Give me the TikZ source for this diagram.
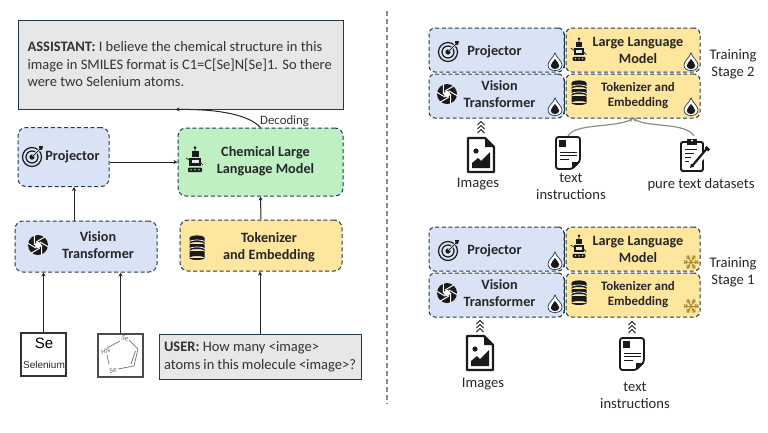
\documentclass[tikz,border=0pt]{standalone}
\usepackage{fontspec}
\setmainfont{Carlito}
\newfontfamily\arialfont{Liberation Sans}
\usetikzlibrary{positioning,arrows.meta,calc}

\definecolor{edgeblue}{HTML}{22394F}
\definecolor{fillblue}{HTML}{DAE3F5}
\definecolor{fillgreen}{HTML}{BEF0C4}
\definecolor{fillyellow}{HTML}{FFE69E}
\definecolor{fillgrey}{HTML}{E7E7E7}
\definecolor{inkdark}{HTML}{1A1A1A}
\definecolor{frost}{HTML}{A88A35}

\tikzset{
  % small icons, local units are pixels
  pics/target/.style={code={
    \draw[inkdark, line width=1.2pt] (0,0) circle (9.5);
    \draw[inkdark, line width=1.2pt] (0,0) circle (6);
    \fill[inkdark] (0,0) circle (2.6);
    \draw[white, line width=2.4pt] (1,-1) -- (9,-9);
    \draw[inkdark, line width=1pt] (0,0) -- (8,-8);
    \fill[inkdark] (7,-11) -- (11,-11) -- (10,-7) -- (7.5,-7.5) -- cycle;
  }},
  pics/aperture/.style={code={
    \fill[inkdark] (0,0) circle (10);
    \foreach \a in {0,60,...,300}
      \draw[white, line width=1pt] (\a:3.6) -- (\a+70:10.5);
    \fill[white] (0,0) circle (3.2);
  }},
  pics/database/.style={code={
    \foreach \y in {-7,0,7}
      \fill[inkdark] (-7.5,\y-3) rectangle (7.5,\y+3) (0,\y+3) ellipse (7.5 and 2);
    \fill[inkdark] (0,-10) ellipse (7.5 and 2.6);
    \foreach \y in {-6,1}
      \draw[white, line width=.7pt] (-7.5,\y) arc[start angle=180, end angle=360, x radius=7.5, y radius=2];
  }},
  pics/robot/.style={code={
    \draw[inkdark, line width=.7pt] (0,-12) -- (0,-9) (-4,1) -- (-9,-2) (4,1) -- (8,5);
    \fill[inkdark] (0,-12.5) circle (1.5);
    \fill[inkdark] (-3.5,-9) rectangle (3.5,-3.5);
    \fill[inkdark] (-6,-2.5) rectangle (6,6);
    \fill[fillgrey] (-3.5,0) rectangle (3.5,3);
    \fill[inkdark, rounded corners=1pt] (-7,7.5) rectangle (7,12);
    \foreach \x in {-4,0,4} \fill[white] (\x,9.8) circle (.8);
  }},
  pics/drop/.style={code={
    \draw[edgeblue, fill=white, line width=.7pt] (0,-9) .. controls (1.5,-4) and (7,-1.5) .. (7,3)
      .. controls (7,7) and (3.5,8.5) .. (0,8.5) .. controls (-3.5,8.5) and (-7,7) .. (-7,3)
      .. controls (-7,-1.5) and (-1.5,-4) .. (0,-9) -- cycle;
    \fill[inkdark] (0,-3) .. controls (1,-.5) and (4.3,.8) .. (4.3,3.6)
      .. controls (4.3,6) and (2,7) .. (0,7) .. controls (-2,7) and (-4.3,6) .. (-4.3,3.6)
      .. controls (-4.3,.8) and (-1,-.5) .. (0,-3) -- cycle;
  }},
  pics/flake/.style={code={
    \foreach \a in {0,60,...,300} {
      \draw[frost, line width=1pt] (0,0) -- (\a:7.5);
      \draw[frost, line width=.8pt] (\a:3.5) -- ++(\a+50:2.5) (\a:3.5) -- ++(\a-50:2.5);
      \draw[frost, line width=.8pt] (\a:5.5) -- ++(\a+50:2.2) (\a:5.5) -- ++(\a-50:2.2);
    }
  }},
  pics/chevrons/.style={code={
    \foreach \y in {-4,0,4}
      \draw[inkdark, line width=1pt] (-3.5,\y+2) -- (0,\y-1.5) -- (3.5,\y+2);
  }},
  pics/imagedoc/.style={code={
    \draw[inkdark, line width=2.4pt, line join=round, fill=white]
      (-13,-17) -- (4,-17) -- (13,-8) -- (13,17) -- (-13,17) -- cycle;
    \fill[inkdark] (4,-17) -- (4,-8) -- (13,-8) -- cycle;
    \fill[inkdark] (-5,-4) circle (2.6);
    \fill[inkdark] (-9,13) -- (-9,8) -- (-3,3) -- (0,6) -- (9,-3) -- (9,13) -- cycle;
  }},
  pics/textdoc/.style={code={
    \draw[inkdark, line width=1.8pt, rounded corners=2.5pt, fill=white]
      (-12,-16) -- (12,-16) -- (12,8) -- (4,16) -- (-12,16) -- cycle;
    \fill[inkdark] (-9,-13) rectangle (-2,-6);
    \draw[inkdark, line width=.9pt] (-8,-1) -- (9,-1) (-8,2.5) -- (9,2.5) (-8,6) -- (1,6);
    \fill[inkdark] (4,16) -- (4,9) -- (12,9) -- cycle;
  }},
  pics/clipboard/.style={code={
    \draw[inkdark, line width=1.8pt, rounded corners=1.5pt, fill=white] (-12,-13) rectangle (10,16);
    \fill[inkdark] (-6,-16) rectangle (4,-10);
    \fill[white] (-1,-14.5) circle (1.1);
    \draw[inkdark, line width=1pt] (-8,-6) -- (4,-6) (-8,-2) -- (1,-2) (-8,2) -- (-2,2) (-8,6) -- (-4,6);
    \fill[white] (-3,13) -- (13,-7) -- (17,-3) -- (1,15) -- cycle;
    \draw[inkdark, line width=2.2pt] (-.5,10.5) -- (13,-5.5);
    \fill[inkdark] (-3,13) -- (-2,8.5) -- (1,11.5) -- cycle;
    \fill[inkdark] (13.5,-9) -- (17,-5.5) -- (15,-3.5) -- (11.5,-7) -- cycle;
  }}
}

\begin{document}
\begin{tikzpicture}[
    x=1pt, y=-1pt,
    txt/.style={font=\fontsize{14.6}{17}\selectfont, text=black!85, align=center},
    msg/.style={draw=edgeblue, line width=1pt, fill=fillgrey, align=left,
                font=\fontsize{14.5}{17.5}\selectfont, text=black!80, inner sep=0pt},
    blk/.style={draw=edgeblue, line width=1pt, dashed, dash pattern=on 4pt off 2.6pt,
                rounded corners=8pt, inner sep=0pt},
    tag/.style={font=\bfseries\fontsize{14.2}{17}\selectfont, text=black!85, align=center},
    tagsmall/.style={font=\bfseries\fontsize{12.9}{15}\selectfont, text=black!85, align=center},
    tagcentre/.style={blk, fill=fillblue, minimum width=135pt, minimum height=44pt, rounded corners=6pt},
    tagside/.style={blk, fill=fillyellow, minimum width=134pt, minimum height=44pt, rounded corners=6pt},
    pict/.style={draw=black!80, line width=1.1pt, fill=white, minimum width=45pt, minimum height=43pt, inner sep=0pt},
    arr/.style={-{Stealth[length=4pt,width=4pt]}, line width=1pt, black!85},
    softarr/.style={-{Stealth[length=4pt,width=5pt]}, line width=1.2pt, black!45}
  ]
  \useasboundingbox (0,0) rectangle (768,432);

  % ========= chat flow, left half =========
  \node[msg, minimum width=325pt, minimum height=89pt] (assistant) at (180.5,64.5)
    {\parbox{306pt}{\textbf{ASSISTANT:} I believe the chemical structure in this\\
     image in SMILES format is C1=C[Se]N[Se]1. So there\\
     were two Selenium atoms.}};

  \node[blk, fill=fillgreen, minimum width=165pt, minimum height=68pt,
        below=18pt of assistant, xshift=80pt,
        label={[tag, xshift=5pt, yshift=1pt]center:Chemical Large\\Language Model}] (chemllm) {};
  \node[blk, fill=fillblue, minimum width=91pt, minimum height=59pt,
        left=68pt of chemllm, yshift=5pt,
        label={[tag, xshift=9pt]center:Projector}] (proj) {};
  \node[blk, fill=fillblue, minimum width=142pt, minimum height=51pt,
        at={(86,246.5)},
        label={[tag, xshift=12pt, yshift=1pt]center:Vision\\Transformer}] (vit) {};
  \node[blk, fill=fillyellow, minimum width=162pt, minimum height=51pt,
        at={(261,245.5)},
        label={[tag, xshift=8pt, yshift=-2pt]center:Tokenizer\\and Embedding}] (tok) {};

  \pic at (32,157) {target};
  \pic at (195,160) {robot};
  \pic at (38,245) {aperture};
  \pic at (197,248) {database};

  % ========= inputs =========
  \node[pict] (selem) at (43.5,354.5) {};
  \node[font=\arialfont\fontsize{15}{15}\selectfont, text=black] (selemsym) at (44,343) {Se};
  \node[font=\arialfont\fontsize{10}{10}\selectfont, text=black!85, inner sep=0pt] (selemname) at (44,364.5) {Selenium};

  \node[pict, draw=black!70] (mol) at (120.5,355.5) {};
  \coordinate (mola) at (120,341);
  \coordinate (molb) at (138,349);
  \coordinate (molc) at (134,366);
  \coordinate (mold) at (118,369);
  \coordinate (mole) at (107,355);
  \coordinate (molf) at (107,348);
  \draw[black!55, line width=.7pt] (molf) -- (mola) (129,340) -- (molb) -- (molc) -- (mold)
    (mole) -- (109,364) (135.5,351) -- (131,364);
  \node[font=\itshape\fontsize{7.5}{8}\selectfont, text=black!60, inner sep=0pt, rotate=-15] (molse) at (125,338.5) {Se};
  \node[font=\itshape\fontsize{7}{8}\selectfont, text=black!60, inner sep=0pt, rotate=15] (molhn) at (105.5,351) {HN};
  \node[font=\itshape\fontsize{7.5}{8}\selectfont, text=black!60, inner sep=0pt, rotate=10] (molsb) at (113,370.5) {Se};

  \node[msg, minimum width=202pt, minimum height=45pt] (user) at (260,356.5)
    {\parbox{192pt}{\textbf{USER:} How many <image>\\
     atoms in this molecule <image>?}};

  \draw[arr] (selem.north) -- (selem.north |- vit.south);
  \draw[arr] (mol.north) -- (mol.north |- vit.south);
  \draw[arr] (user.north) -- (user.north |- tok.south);
  \draw[arr] ([xshift=-12pt]vit.north) -- ([xshift=-12pt]vit.north |- proj.south);
  \draw[arr] (tok.north) -- (chemllm.south);
  \draw[arr] (proj.east |- chemllm.west) -- (chemllm.west);
  \draw[arr] (chemllm.north) .. controls (247,113) and (212,109) .. ([xshift=-5pt]assistant.south);
  \node[font=\fontsize{12.8}{14}\selectfont, text=black!80, inner sep=0pt, anchor=west] (decoding) at (260,121) {Decoding};

  % ========= separator =========
  \draw[black!45, line width=1.6pt, dash pattern=on 5pt off 3pt] (387,11) -- (387,404);

  % ========= training stage 2 =========
  \node[tagcentre, label={[tag, xshift=-2pt, yshift=-2pt]center:Projector}] (projb) at (496.5,50) {};
  \node[tagcentre, below=1pt of projb, label={[tag, xshift=3pt, yshift=2pt]center:Vision\\Transformer}] (vitb) {};
  \node[tagside, right=1pt of projb, label={[tag, xshift=5pt]center:Large Language\\Model}] (llmb) {};
  \node[tagside, below=1pt of llmb, label={[tagsmall, xshift=5pt]center:Tokenizer and\\Embedding}] (tokb) {};
  \draw[edgeblue, line width=1pt] ([yshift=-5pt]projb.north east) -- ([yshift=5pt]projb.south east);
  \draw[edgeblue, line width=1pt] ([yshift=-5pt]vitb.north east) -- ([yshift=5pt]vitb.south east);

  \pic at (448,52) {target};
  \pic at (447,94) {aperture};
  \pic[scale=.9] at (579,50) {robot};
  \pic at (579,93) {database};
  \pic at (555,62) {drop};
  \pic at (555,107) {drop};
  \pic at (691,62) {drop};
  \pic at (691,107) {drop};

  \node[txt] (stageb) at (733,64) {Training\\Stage 2};

  \pic at (481,127) {chevrons};
  \pic at (481,155) {imagedoc};
  \pic at (568,153) {textdoc};
  \pic at (693,155) {clipboard};
  \coordinate (docb) at (568,136);
  \coordinate (padb) at (694,136);
  \node[txt] (imagesb) at (478,184) {Images};
  \node[txt] (instrb) at (571,186.5) {text\\instructions};
  \node[txt] (pureb) at (701,185) {pure text datasets};

  \draw[softarr] (docb) .. controls (575,123) and (615,128) .. (tokb.south);
  \draw[softarr] (padb) .. controls (685,122) and (650,128) .. (tokb.south);

  % ========= training stage 1 =========
  \node[tagcentre, label={[tag, xshift=-2pt, yshift=-2pt]center:Projector}] (proja) at (496.5,249) {};
  \node[tagcentre, below=1pt of proja, label={[tag, xshift=3pt, yshift=2pt]center:Vision\\Transformer}] (vita) {};
  \node[tagside, right=1pt of proja, label={[tag, xshift=5pt]center:Large Language\\Model}] (llma) {};
  \node[tagside, below=1pt of llma, label={[tagsmall, xshift=5pt]center:Tokenizer and\\Embedding}] (toka) {};
  \draw[edgeblue, line width=1pt] ([yshift=-5pt]proja.north east) -- ([yshift=5pt]proja.south east);
  \draw[edgeblue, line width=1pt] ([yshift=-5pt]vita.north east) -- ([yshift=5pt]vita.south east);

  \pic at (448,251) {target};
  \pic at (447,293) {aperture};
  \pic[scale=.9] at (579,247) {robot};
  \pic at (579,293) {database};
  \pic at (555,261) {drop};
  \pic at (555,304) {drop};
  \pic at (691,262) {flake};
  \pic at (691,306) {flake};

  \node[txt] (stagea) at (733,272) {Training\\Stage 1};

  \pic at (480,326) {chevrons};
  \pic at (480,353) {imagedoc};
  \pic at (632,327) {chevrons};
  \pic at (632,354) {textdoc};
  \node[txt] (imagesa) at (483,384) {Images};
  \node[txt] (instra) at (635,395) {text\\instructions};

\end{tikzpicture}
\end{document}
